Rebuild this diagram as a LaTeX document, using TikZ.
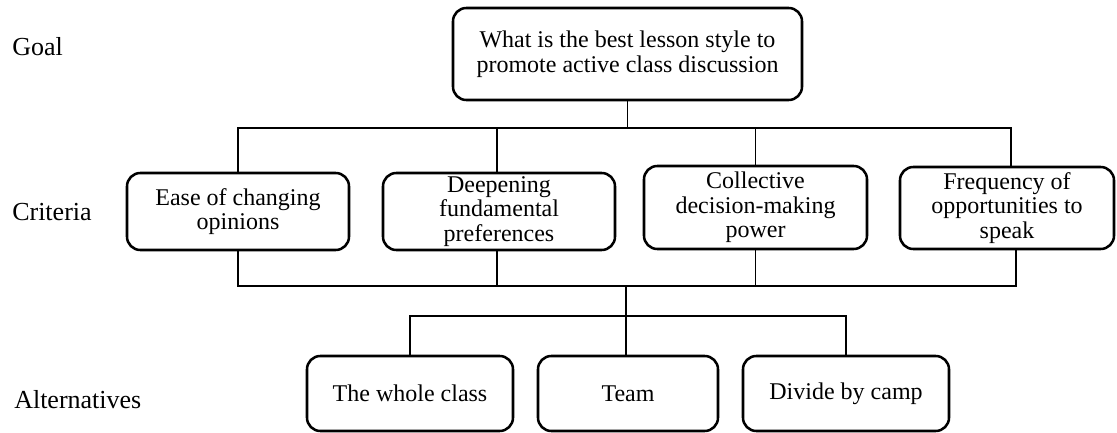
\documentclass[tikz,border=0pt]{standalone}
\usepackage{fontspec}
\setmainfont{Liberation Serif}
\begin{document}
\begin{tikzpicture}[x=0.75pt,y=-0.75pt,
  every node/.style={font=\fontsize{18}{18.5}\selectfont},
  box/.style={draw, line width=1.9pt, rounded corners=10pt, align=center, inner sep=2pt},
  link/.style={line width=1.3pt},
  level/.style={anchor=west, inner sep=0pt, font=\fontsize{19.5}{20}\selectfont}]
\useasboundingbox (0,0) rectangle (1117,432);

% level labels
\node[level] (lgoal) at (12,47) {Goal};
\node[level] (lcrit) at (12,212) {Criteria};
\node[level] (lalt)  at (14,400) {Alternatives};

% goal
\node[box, minimum width=261.75pt, minimum height=69pt] (goal) at (627.5,54)
  {What is the best lesson style to\\promote active class discussion};

% criteria
\node[box, minimum width=166.5pt, minimum height=57.75pt] (c1) at (238,211.5)
  {Ease of changing\\opinions};
\node[box, minimum width=174pt, minimum height=57.75pt] (c2) at (499,211.5)
  {Deepening\\fundamental\\preferences};
\node[box, minimum width=167.25pt, minimum height=62.25pt] (c3) at (755.5,207.5)
  {Collective\\decision-making\\power};
\node[box, minimum width=160.5pt, minimum height=61.5pt] (c4) at (1007,208)
  {Frequency of\\opportunities to\\speak};

% alternatives
\node[box, minimum width=154.5pt, minimum height=56.25pt] (a1) at (410,393.5) {The whole class};
\node[box, minimum width=135pt, minimum height=56.25pt] (a2) at (628,393.5) {Team};
\node[box, minimum width=154.5pt, minimum height=56.25pt] (a3) at (846,393.5) {Divide by camp};

% bar heights
\coordinate (tb) at (0,128);
\coordinate (bb) at (0,286);
\coordinate (ab) at (0,316);

% attachment points
\coordinate (c2t) at ([xshift=-1.5pt]c2.north);
\coordinate (c2b) at ([xshift=-1.5pt]c2.south);
\coordinate (c4t) at ([xshift=3pt]c4.north);
\coordinate (c4b) at ([xshift=6.75pt]c4.south);
\coordinate (hub) at ([xshift=-1.5pt]a2.north);

% goal to criteria
\draw[link] (goal.south) -- (goal.south |- tb);
\draw[link] (c1.north) -- (c1.north |- tb) -- (c4t |- tb) -- (c4t);
\draw[link] (c2t) -- (c2t |- tb);
\draw[link] (c3.north) -- (c3.north |- tb);

% criteria to alternatives
\draw[link] (c1.south) -- (c1.south |- bb) -- (c4b |- bb) -- (c4b);
\draw[link] (c2b) -- (c2b |- bb);
\draw[link] (c3.south) -- (c3.south |- bb);
\draw[link] (hub |- bb) -- (hub);
\draw[link] (a1.north) -- (a1.north |- ab) -- (a3.north |- ab) -- (a3.north);
\end{tikzpicture}
\end{document}
